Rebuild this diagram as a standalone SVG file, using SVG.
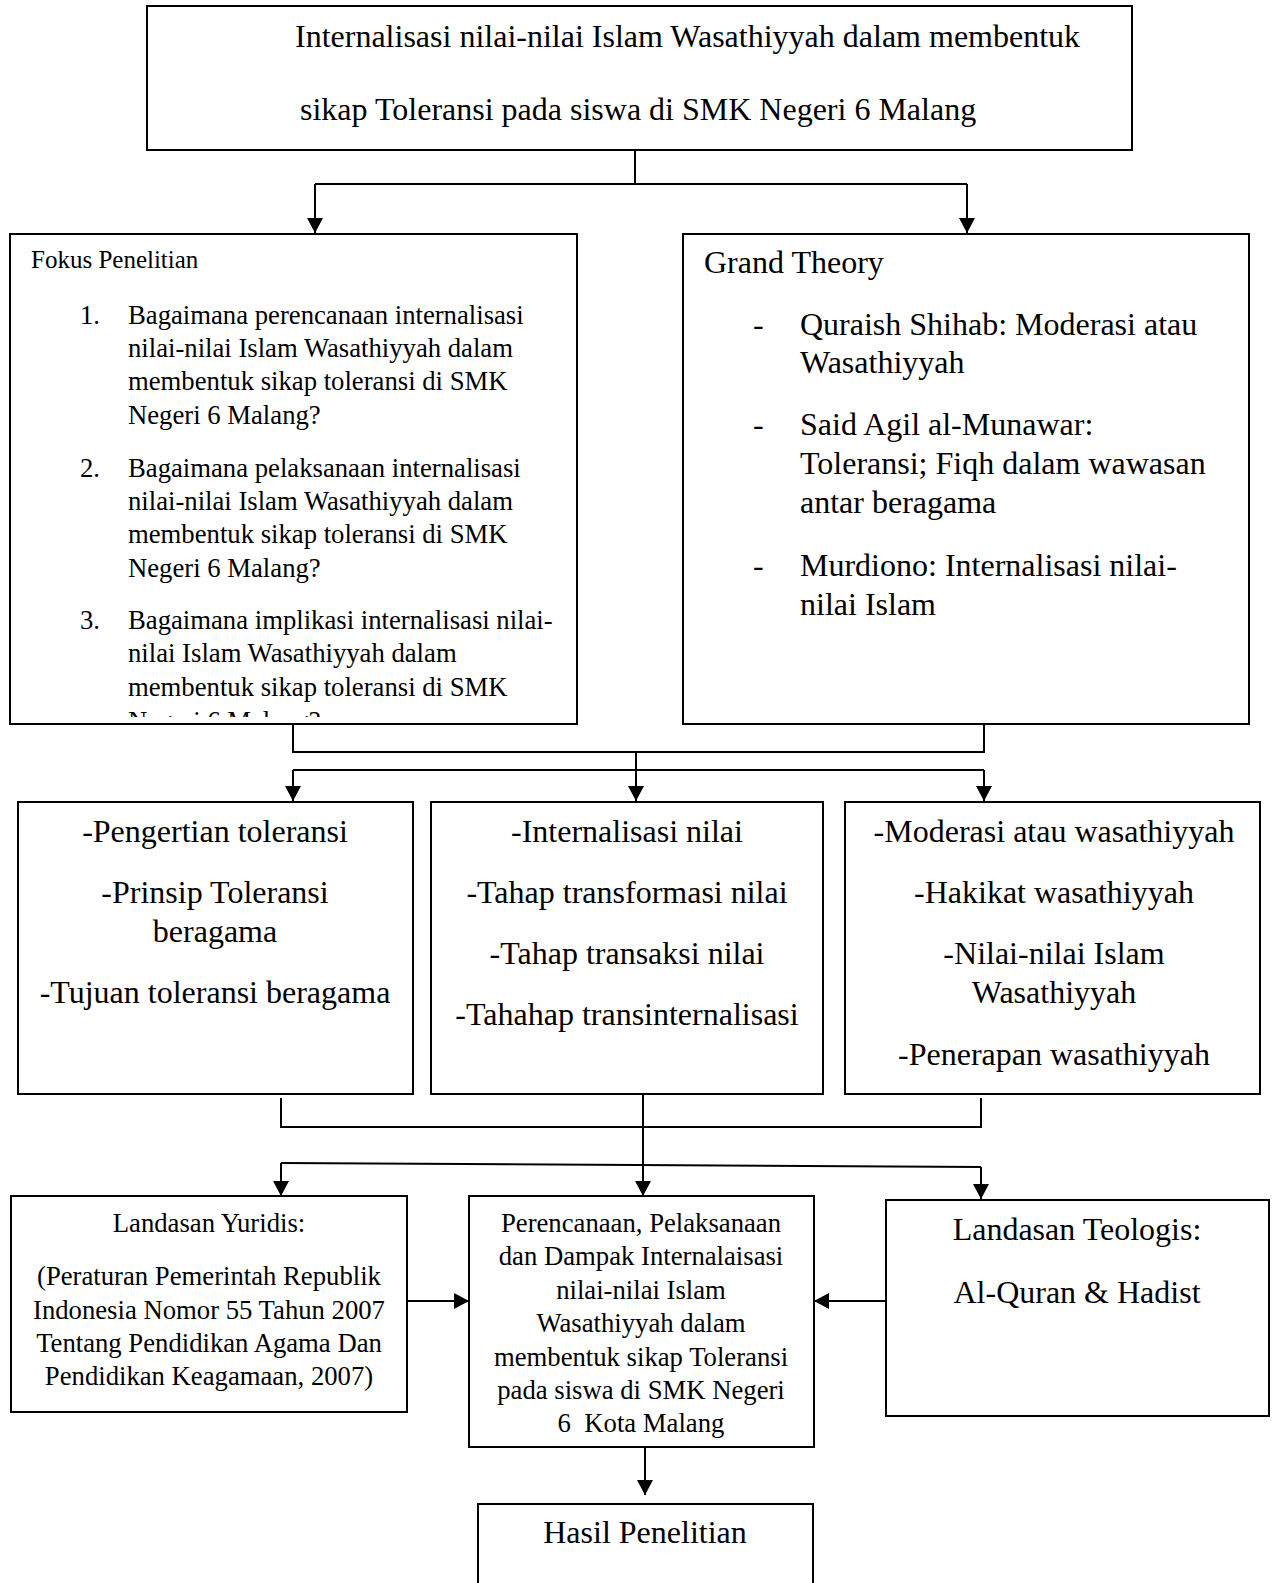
<svg xmlns="http://www.w3.org/2000/svg" width="1277" height="1583" viewBox="0 0 1277 1583">
<style>
text{font-family:"Liberation Serif","Times New Roman",serif;fill:#000}
.box{fill:#fff;stroke:#000;stroke-width:2}
.ln{fill:none;stroke:#000;stroke-width:2}
.c{text-anchor:middle}
.f32{font-size:32px}
.f27{font-size:26.7px}
.f25{font-size:25px}
</style>
<defs>
<marker id="ah" markerUnits="userSpaceOnUse" markerWidth="16" markerHeight="16" viewBox="0 0 16 16" refX="15" refY="8" orient="auto">
<path d="M0,0 L15,8 L0,16 Z" fill="#000"/>
</marker>
<clipPath id="fokusClip"><rect x="11" y="235" width="565" height="482"/></clipPath>
</defs>
<rect width="1277" height="1583" fill="#fff"/>

<g id="connectors">
<path class="ln" d="M635,150 V184"/>
<path class="ln" d="M315,184 H967"/>
<path class="ln" d="M315,184 V233" marker-end="url(#ah)"/>
<path class="ln" d="M967,184 V233" marker-end="url(#ah)"/>
<path class="ln" d="M293,724 V752 H984 V724"/>
<path class="ln" d="M636,752 V801" marker-end="url(#ah)"/>
<path class="ln" d="M293,770 H984"/>
<path class="ln" d="M293,770 V801" marker-end="url(#ah)"/>
<path class="ln" d="M984,770 V801" marker-end="url(#ah)"/>
<path class="ln" d="M281,1098 V1127 H981 V1098"/>
<path class="ln" d="M643,1094 V1196" marker-end="url(#ah)"/>
<path class="ln" d="M281,1163 L981,1167"/>
<path class="ln" d="M281,1163 V1196" marker-end="url(#ah)"/>
<path class="ln" d="M981,1167 V1199" marker-end="url(#ah)"/>
<path class="ln" d="M407,1301 H469" marker-end="url(#ah)"/>
<path class="ln" d="M886,1301 H814" marker-end="url(#ah)"/>
<path class="ln" d="M645,1447 V1495" marker-end="url(#ah)"/>
</g>

<g id="judul">
<rect class="box" x="147" y="6" width="985" height="144"/>
<text class="f32" x="295" y="47">Internalisasi nilai-nilai Islam Wasathiyyah dalam membentuk</text>
<text class="f32" x="300" y="120">sikap Toleransi pada siswa di SMK Negeri 6 Malang</text>
</g>

<g id="fokus">
<rect class="box" x="10" y="234" width="567" height="490"/>
<text class="f25" x="31" y="268">Fokus Penelitian</text>
<g clip-path="url(#fokusClip)" class="f27">
<text x="80" y="324">1.</text>
<text x="128" y="324">Bagaimana perencanaan internalisasi</text>
<text x="128" y="357">nilai-nilai Islam Wasathiyyah dalam</text>
<text x="128" y="390">membentuk sikap toleransi di SMK</text>
<text x="128" y="424">Negeri 6 Malang?</text>
<text x="80" y="477">2.</text>
<text x="128" y="477">Bagaimana pelaksanaan internalisasi</text>
<text x="128" y="510">nilai-nilai Islam Wasathiyyah dalam</text>
<text x="128" y="543">membentuk sikap toleransi di SMK</text>
<text x="128" y="577">Negeri 6 Malang?</text>
<text x="80" y="629">3.</text>
<text x="128" y="629">Bagaimana implikasi internalisasi nilai-</text>
<text x="128" y="662">nilai Islam Wasathiyyah dalam</text>
<text x="128" y="696">membentuk sikap toleransi di SMK</text>
<text x="128" y="730">Negeri 6 Malang?</text>
</g>
</g>

<g id="grand-theory" class="f32">
<rect class="box" x="683" y="234" width="566" height="490"/>
<text x="704" y="273">Grand Theory</text>
<text x="753" y="335">-</text>
<text x="800" y="335">Quraish Shihab: Moderasi atau</text>
<text x="800" y="373">Wasathiyyah</text>
<text x="753" y="435">-</text>
<text x="800" y="435">Said Agil al-Munawar:</text>
<text x="800" y="474">Toleransi; Fiqh dalam wawasan</text>
<text x="800" y="513">antar beragama</text>
<text x="753" y="576">-</text>
<text x="800" y="576">Murdiono: Internalisasi nilai-</text>
<text x="800" y="615">nilai Islam</text>
</g>

<g id="toleransi" class="f32 c">
<rect class="box" x="18" y="802" width="395" height="292"/>
<text x="215" y="842">-Pengertian toleransi</text>
<text x="215" y="903">-Prinsip Toleransi</text>
<text x="215" y="942">beragama</text>
<text x="215" y="1003">-Tujuan toleransi beragama</text>
</g>

<g id="internalisasi" class="f32 c">
<rect class="box" x="431" y="802" width="392" height="292"/>
<text x="627" y="842">-Internalisasi nilai</text>
<text x="627" y="903">-Tahap transformasi nilai</text>
<text x="627" y="964">-Tahap transaksi nilai</text>
<text x="627" y="1025">-Tahahap transinternalisasi</text>
</g>

<g id="moderasi" class="f32 c">
<rect class="box" x="845" y="802" width="415" height="292"/>
<text x="1054" y="842">-Moderasi atau wasathiyyah</text>
<text x="1054" y="903">-Hakikat wasathiyyah</text>
<text x="1054" y="964">-Nilai-nilai Islam</text>
<text x="1054" y="1003">Wasathiyyah</text>
<text x="1054" y="1065">-Penerapan wasathiyyah</text>
</g>

<g id="yuridis" class="f27 c">
<rect class="box" x="11" y="1196" width="396" height="216"/>
<text x="209" y="1232">Landasan Yuridis:</text>
<text x="209" y="1285">(Peraturan Pemerintah Republik</text>
<text x="209" y="1319">Indonesia Nomor 55 Tahun 2007</text>
<text x="209" y="1352">Tentang Pendidikan Agama Dan</text>
<text x="209" y="1385">Pendidikan Keagamaan, 2007)</text>
</g>

<g id="pusat" class="f27 c">
<rect class="box" x="469" y="1196" width="345" height="251"/>
<text x="641" y="1232">Perencanaan, Pelaksanaan</text>
<text x="641" y="1265">dan Dampak Internalaisasi</text>
<text x="641" y="1299">nilai-nilai Islam</text>
<text x="641" y="1332">Wasathiyyah dalam</text>
<text x="641" y="1366">membentuk sikap Toleransi</text>
<text x="641" y="1399">pada siswa di SMK Negeri</text>
<text x="641" y="1432" xml:space="preserve" style="white-space:pre">6  Kota Malang</text>
</g>

<g id="teologis" class="f32 c">
<rect class="box" x="886" y="1200" width="383" height="216"/>
<text x="1077" y="1240">Landasan Teologis:</text>
<text x="1077" y="1303">Al-Quran &amp; Hadist</text>
</g>

<g id="hasil" class="f32 c">
<rect class="box" x="478" y="1504" width="335" height="100"/>
<text x="645" y="1543">Hasil Penelitian</text>
</g>
</svg>
